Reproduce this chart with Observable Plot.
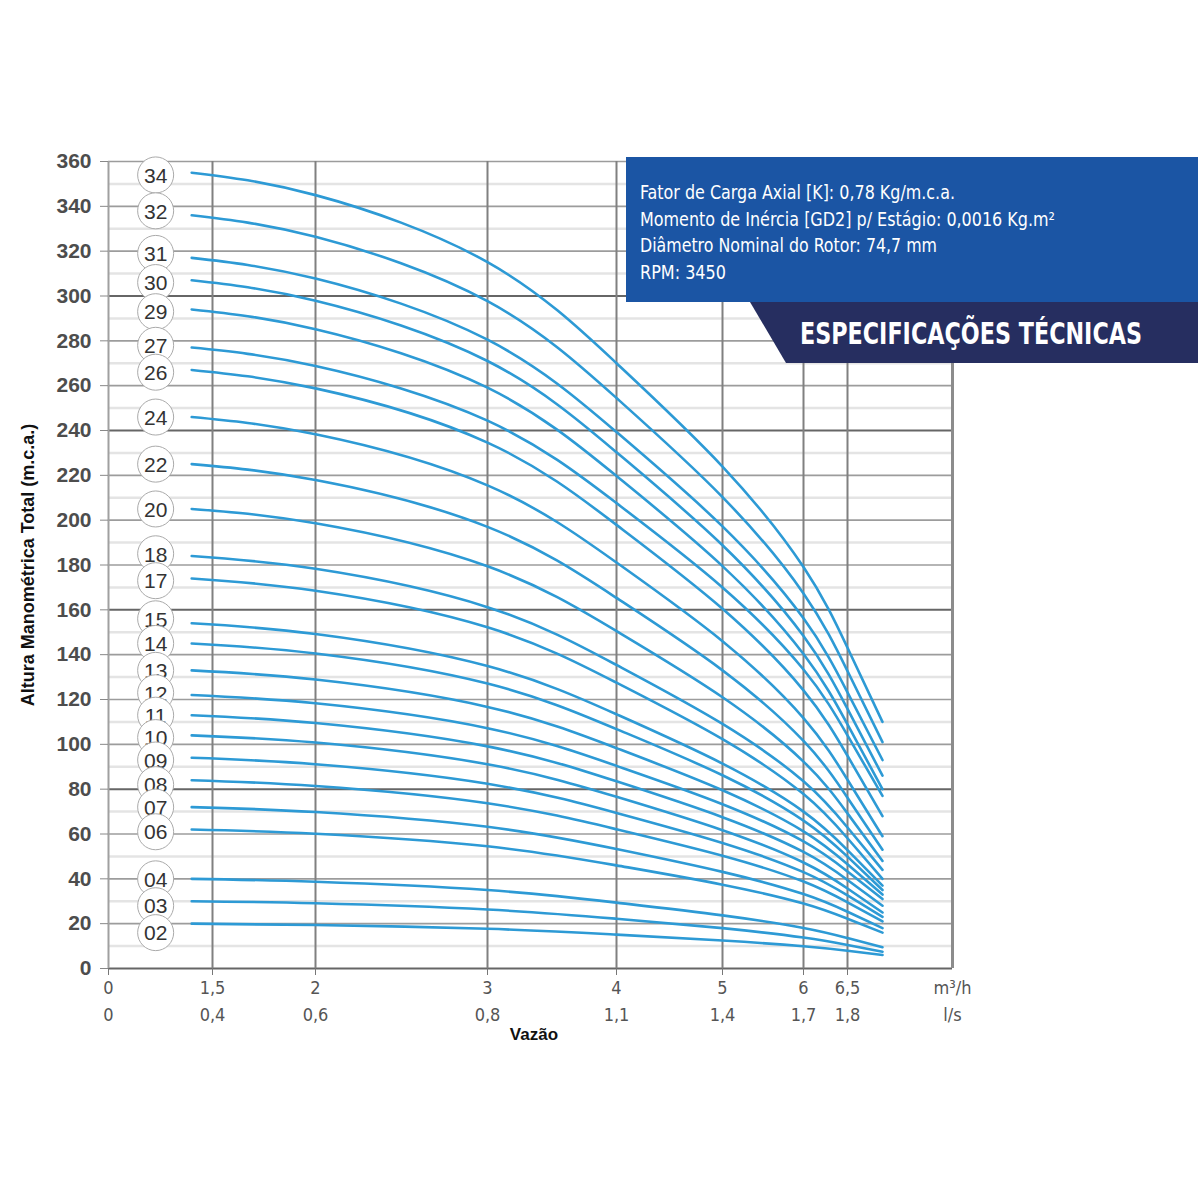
<!DOCTYPE html>
<html>
<head>
<meta charset="utf-8">
<script src="https://cdn.jsdelivr.net/npm/d3@7"></script>
<script src="https://cdn.jsdelivr.net/npm/@observablehq/plot@0.6"></script>
<style>
  body { margin: 0; background: #fff; }
  #chart svg { display: block; }
</style>
</head>
<body>
<div id="chart"></div>
<script>
// ---------- data ----------
const flowTicks = [0, 1.5, 2, 3, 4, 5, 6, 6.5];
const flowTickLabels = ["0", "1,5", "2", "3", "4", "5", "6", "6,5"];
const lsTickLabels = ["0", "0,4", "0,6", "0,8", "1,1", "1,4", "1,7", "1,8"];
const headTicks = [0, 20, 40, 60, 80, 100, 120, 140, 160, 180, 200, 220, 240, 260, 280, 300, 320, 340, 360];
const headMinor = [10, 30, 50, 70, 90, 110, 130, 150, 170, 190, 210, 230, 250, 270, 290, 310, 330, 350];
const headDark = [0, 80, 160, 240, 300];

// flow points (m³/h) where each curve is read
const flows = [1.2, 2, 3, 4, 5, 6, 6.5, 6.9];

const h34 = [355, 345.0, 315.1, 270.0, 223.9, 179.1, 143.1, 110];
const h32 = [336, 326.4, 297.7, 254.5, 210.3, 167.3, 132.7, 101];
const h31 = [317, 307.8, 280.5, 239.3, 197.2, 156.2, 123.2, 93];
const h30 = [307, 297.9, 271.0, 230.3, 188.8, 148.3, 115.8, 86];
const h29 = [294, 285.2, 259.1, 219.7, 179.5, 140.3, 108.9, 80];
const h27 = [277, 268.8, 244.4, 207.6, 170.0, 133.4, 104.0, 77];
const h26 = [267, 258.8, 234.6, 197.9, 160.5, 124.1, 94.9, 68];
const h24 = [246, 238.3, 215.5, 181.1, 146.0, 111.7, 84.2, 59];
const h22 = [225, 217.9, 197.0, 165.3, 133.0, 101.5, 76.2, 53];
const h20 = [205, 198.6, 179.4, 150.5, 121.0, 92.3, 69.2, 48];
const h18 = [184, 178.3, 161.2, 135.4, 109.1, 83.5, 62.9, 44];
const h17 = [174, 168.5, 152.2, 127.5, 102.3, 77.8, 58.1, 40];
const h15 = [154, 149.2, 134.9, 113.4, 91.4, 70.0, 52.8, 37];
const h14 = [145, 140.5, 127.1, 106.8, 86.2, 66.0, 49.9, 35];
const h13 = [133, 128.9, 116.7, 98.3, 79.5, 61.2, 46.5, 33];
const h12 = [122, 118.3, 107.2, 90.4, 73.3, 56.7, 43.3, 31];
const h11 = [113, 109.5, 99.1, 83.5, 67.5, 52.0, 39.5, 28];
const h10 = [104, 100.8, 91.1, 76.6, 61.7, 47.3, 35.7, 25];
const h09 = [94, 91.1, 82.4, 69.4, 56.0, 43.0, 32.6, 23];
const h08 = [84, 81.4, 73.7, 62.1, 50.3, 38.8, 29.5, 21];
const h07 = [72, 69.8, 63.2, 53.3, 43.1, 33.2, 25.3, 18];
const h06 = [62, 60.1, 54.5, 46.0, 37.4, 29.0, 22.2, 16];
const h04 = [40, 38.7, 35.0, 29.4, 23.7, 18.1, 13.6, 9.5];
const h03 = [30, 29.1, 26.3, 22.2, 18.0, 13.8, 10.5, 7.5];
const h02 = [20, 19.4, 17.7, 15.1, 12.5, 9.9, 7.9, 6];

const stages = ["34", "32", "31", "30", "29", "27", "26", "24", "22", "20", "18", "17", "15",
                "14", "13", "12", "11", "10", "09", "08", "07", "06", "04", "03", "02"];
const stageHeads = [h34, h32, h31, h30, h29, h27, h26, h24, h22, h20, h18, h17, h15,
                    h14, h13, h12, h11, h10, h09, h08, h07, h06, h04, h03, h02];
// vertical position of each circled label (m.c.a.) and its flow position
const labelHeads = [354, 338, 319, 306, 293, 278, 266, 246, 225, 205, 185, 173, 156,
                    145, 133, 123, 113, 103, 93, 82, 72, 61, 40, 28, 16];
const labelFlow = 0.68;

// ---------- tables ----------
const curveRows = stages.flatMap((s, i) =>
  flows.map((q, j) => ({stage: s, q, h: stageHeads[i][j]})));
const tickRows = flowTicks.map((q, i) => ({q, m3: flowTickLabels[i], ls: lsTickLabels[i]}));

const narrow = "'Liberation Sans Narrow', 'Arial Narrow', 'DejaVu Sans Condensed', sans-serif";
const sans = "'Liberation Sans', Arial, Helvetica, sans-serif";

// specification box (decoration)
function specBox() {
  const g = d3.create("svg:g").attr("text-anchor", "start");
  g.append("rect").attr("x", 626).attr("y", 157).attr("width", 572).attr("height", 145)
    .attr("fill", "#1b55a4");
  g.append("polygon").attr("points", "750,302 1198,302 1198,363 786,363").attr("fill", "#262e60");
  const lines = [
    ["Fator de Carga Axial [K]: 0,78 Kg/m.c.a.", 199, 315],
    ["Momento de Inércia [GD2] p/ Estágio: 0,0016 Kg.m²", 226, 415],
    ["Diâmetro Nominal do Rotor: 74,7 mm", 252, 297],
    ["RPM: 3450", 279, 86]
  ];
  for (const [t, y, w] of lines) {
    g.append("text").attr("x", 640).attr("y", y).attr("fill", "#ffffff")
      .attr("text-anchor", "start")
      .attr("font-family", narrow).attr("font-size", 19)
      .attr("textLength", w).attr("lengthAdjust", "spacingAndGlyphs").text(t);
  }
  g.append("text").attr("transform", "translate(800,344) scale(1,1.12)")
    .attr("x", 0).attr("y", 0).attr("fill", "#ffffff")
    .attr("text-anchor", "start")
    .attr("font-family", narrow).attr("font-weight", "bold").attr("font-size", 27)
    .attr("textLength", 342).attr("lengthAdjust", "spacingAndGlyphs")
    .text("ESPECIFICAÇÕES TÉCNICAS");
  return g.node();
}

const labelMarks = stages.flatMap((s, i) => [
  Plot.dot([{q: labelFlow, h: labelHeads[i]}], {x: "q", y: "h", r: 18, fill: "white", stroke: "#aaaaaa", strokeWidth: 1}),
  Plot.text([{q: labelFlow, h: labelHeads[i], t: s}], {x: "q", y: "h", text: "t", fontSize: 21,
    fontFamily: sans, fill: "#333333", dy: 1})
]);

const chart = Plot.plot({
  width: 1200,
  height: 1200,
  marginLeft: 108,
  marginRight: 248,
  marginTop: 161,
  marginBottom: 232,
  style: {fontFamily: sans, background: "white", overflow: "visible"},
  x: {type: "linear", domain: [0, 1.5, 2, 3, 4, 5, 6, 6.5, 7.7],
      range: [108, 212, 315, 487, 616, 722, 803, 847, 952], label: null},
  y: {domain: [0, 360], label: null},
  marks: [
    Plot.ruleY(headMinor, {stroke: "#e4e4e4", strokeWidth: 2.5}),
    Plot.ruleY(headTicks.filter(d => !headDark.includes(d)), {stroke: "#9c9c9c", strokeWidth: 1.6}),
    Plot.ruleY(headDark, {stroke: "#666666", strokeWidth: 2}),
    Plot.ruleX(flowTicks.slice(1), {stroke: "#808080", strokeWidth: 2}),
    Plot.ruleX([0], {stroke: "#a0a0a0", strokeWidth: 2}),
    Plot.ruleX([7.7], {stroke: "#8c8c8c", strokeWidth: 3}),
    Plot.axisY({ticks: headTicks, tickSize: 8, tickPadding: 9, stroke: "#888888", fill: "#4d4d4d",
      fontSize: 21, fontWeight: "bold", fontFamily: sans, label: null}),
    Plot.axisX({ticks: flowTicks, tickSize: 7, tickPadding: 6, stroke: "#777777", fill: "#555555",
      fontSize: 18, fontFamily: narrow, label: null,
      tickFormat: d => flowTickLabels[flowTicks.indexOf(d)]}),
    Plot.text(tickRows, {x: "q", text: "ls", frameAnchor: "bottom", dy: 52, fontSize: 18,
      fontFamily: narrow, fill: "#555555"}),
    Plot.text([{q: 7.7, t: "m³/h"}], {x: "q", text: "t", frameAnchor: "bottom", dy: 25, fontSize: 18,
      fontFamily: narrow, fill: "#555555"}),
    Plot.text([{q: 7.7, t: "l/s"}], {x: "q", text: "t", frameAnchor: "bottom", dy: 52, fontSize: 18,
      fontFamily: narrow, fill: "#555555"}),
    Plot.text([{q: 3.36, t: "Vazão"}], {x: "q", text: "t", frameAnchor: "bottom", dy: 71, fontSize: 17,
      fontWeight: "bold", fontFamily: sans, fill: "#111111"}),
    Plot.text([{h: 180, t: "Altura Manométrica Total (m.c.a.)"}], {y: "h", text: "t", frameAnchor: "left",
      textAnchor: "middle", dx: -80, rotate: -90, fontSize: 18, fontWeight: "bold", fontFamily: sans,
      fill: "#111111"}),
    Plot.line(curveRows, {x: "q", y: "h", z: "stage", stroke: "#2d9ad5", strokeWidth: 2.6,
      curve: "natural"}),
    ...labelMarks,
    specBox
  ]
});

document.getElementById("chart").appendChild(chart);
</script>
</body>
</html>
